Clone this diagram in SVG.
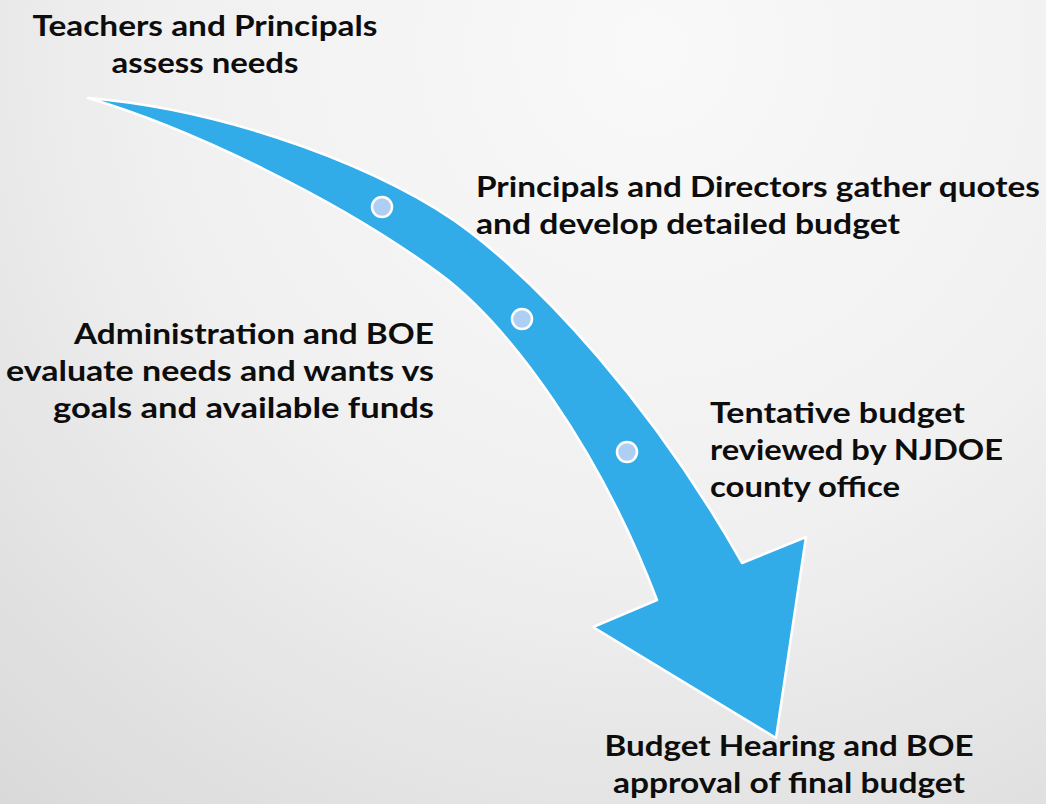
<svg xmlns="http://www.w3.org/2000/svg" width="1046" height="804" viewBox="0 0 1046 804">
  <defs>
    <radialGradient id="bg" gradientUnits="userSpaceOnUse" cx="650" cy="50" r="1000">
      <stop offset="0" stop-color="#f9f9f9"/>
      <stop offset="0.5" stop-color="#f0f0f0"/>
      <stop offset="1" stop-color="#d9d9d9"/>
    </radialGradient>
    <style>
      .lbl { font-family: Lato, "Liberation Sans", sans-serif; font-weight: 700; font-size: 29px; fill: #0d0d0d; }
      .arrow { fill: #32ace9; stroke: #ffffff; stroke-width: 2.5; stroke-linejoin: round; }
      .dot { fill: #aecff3; stroke: #ffffff; stroke-width: 2.5; }
    </style>
  </defs>

  <rect width="1046" height="804" fill="url(#bg)"/>

  <!-- curved process arrow with step markers -->
  <g id="connectors">
    <path class="arrow" d="M88,98 C230,110 390,170 470,232 C540,286 650,400 742,563 L806,537 L776,738 L593,627 L657,600 C600,450 510,326 440,274 C340,200 190,128 88,98 Z"/>
    <circle class="dot" cx="382" cy="207" r="10"/>
    <circle class="dot" cx="522" cy="319" r="10"/>
    <circle class="dot" cx="627" cy="452" r="10"/>
  </g>

  <g id="step1">
    <text class="lbl" x="205" y="36" text-anchor="middle" textLength="345" lengthAdjust="spacingAndGlyphs">Teachers and Principals</text>
    <text class="lbl" x="205" y="73" text-anchor="middle" textLength="187" lengthAdjust="spacingAndGlyphs">assess needs</text>
  </g>

  <g id="step2">
    <text class="lbl" x="476" y="197" textLength="564" lengthAdjust="spacingAndGlyphs">Principals and Directors gather quotes</text>
    <text class="lbl" x="476" y="234" textLength="424" lengthAdjust="spacingAndGlyphs">and develop detailed budget</text>
  </g>

  <g id="step3">
    <text class="lbl" x="434" y="344" text-anchor="end" textLength="360" lengthAdjust="spacingAndGlyphs">Administration and BOE</text>
    <text class="lbl" x="434" y="381" text-anchor="end" textLength="428" lengthAdjust="spacingAndGlyphs">evaluate needs and wants vs</text>
    <text class="lbl" x="434" y="418" text-anchor="end" textLength="381" lengthAdjust="spacingAndGlyphs">goals and available funds</text>
  </g>

  <g id="step4">
    <text class="lbl" x="710" y="423" textLength="255" lengthAdjust="spacingAndGlyphs">Tentative budget</text>
    <text class="lbl" x="710" y="460" textLength="293" lengthAdjust="spacingAndGlyphs">reviewed by NJDOE</text>
    <text class="lbl" x="710" y="497" textLength="190" lengthAdjust="spacingAndGlyphs">county office</text>
  </g>

  <g id="step5">
    <text class="lbl" x="789" y="756" text-anchor="middle" textLength="369" lengthAdjust="spacingAndGlyphs">Budget Hearing and BOE</text>
    <text class="lbl" x="789" y="793" text-anchor="middle" textLength="352" lengthAdjust="spacingAndGlyphs">approval of final budget</text>
  </g>
</svg>
